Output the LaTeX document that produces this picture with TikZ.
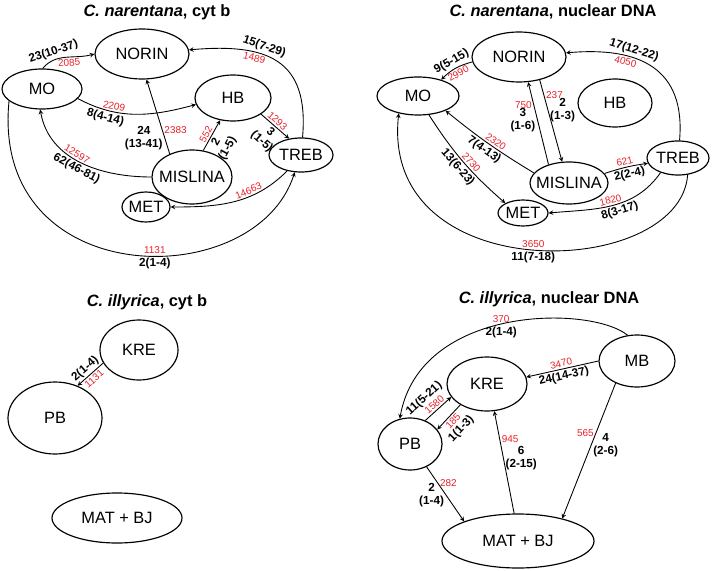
\documentclass[tikz,border=0pt]{standalone}
\usepackage{fontspec}
\setmainfont{Liberation Sans}
\usetikzlibrary{shapes.geometric}
\definecolor{cb}{RGB}{0,0,0}
\definecolor{cr}{RGB}{232,32,40}
\tikzstyle{pop}=[ellipse, draw=cb, line width=1pt, inner xsep=-12pt, inner ysep=-4pt, font=\fontsize{14}{16}\selectfont]
\tikzstyle{head}=[font=\bfseries\fontsize{14}{16}\selectfont]
\tikzstyle{arrow}=[cb, line width=0.75pt, ->, >=stealth]
\tikzstyle{est}=[font=\bfseries\fontsize{10}{11}\selectfont, inner sep=1.5pt, align=center]
\tikzstyle{num}=[cr, font=\fontsize{8.5}{10}\selectfont, inner sep=1.5pt]

\begin{document}
\begin{tikzpicture}[x=0.03cm, y=-0.03cm]
  \useasboundingbox (0,0) rectangle (712,571);

  \node [head] (title-a) at (157,12) {\textit{C. narentana}, cyt b};
  \node [head] (title-b) at (553,12) {\textit{C. narentana}, nuclear DNA};
  \node [head] (title-c) at (147,302) {\textit{C. illyrica}, cyt b};
  \node [head] (title-d) at (549,299) {\textit{C. illyrica}, nuclear DNA};

  \node [pop, minimum width=2.82cm, minimum height=1.50cm] (norin-a) at (142,54) {NORIN};
  \node [pop, minimum width=2.40cm, minimum height=1.20cm] (mo-a) at (42,89) {MO};
  \node [pop, minimum width=2.28cm, minimum height=1.38cm] (hb-a) at (233,98) {HB};
  \node [pop, minimum width=2.40cm, minimum height=1.62cm] (mislina-a) at (192,177) {MISLINA};
  \node [pop, minimum width=1.92cm, minimum height=1.02cm] (treb-a) at (301,155) {TREB};
  \node [pop, minimum width=1.44cm, minimum height=0.90cm] (met-a) at (146,207) {MET};

  \draw [arrow] (mo-a.88) to[out=50,in=195] node[est, pos=.3, above, sloped]{23(10-37)} node[num, pos=.55, below, sloped]{2085} (norin-a.180);
  \draw [arrow] (mo-a.-15) to[out=-28,in=195] node[num, pos=.3, above, sloped]{2209} node[est, pos=.25, below, sloped]{8(4-14)} (hb-a.190);
  \draw [arrow] (treb-a.85) to[out=85,in=5,looseness=1.4] node[est, pos=.62, above, sloped]{15(7-29)} node[num, pos=.66, below, sloped]{1489} (norin-a.5);
  \draw [arrow] (mislina-a.134) -- node[est, pos=.21, left]{24\\(13-41)} node[num, pos=.32, right]{2383} (norin-a.-80);
  \draw [arrow] (mislina-a.67) -- node[num, pos=.45, above, sloped]{552} node[est, pos=.4, below, sloped]{2\\(1-5)} (hb-a.240);
  \draw [arrow] (hb-a.-30) -- node[num, pos=.45, above, sloped]{1293} node[est, pos=.5, below, sloped]{3\\(1-5)} (treb-a.126);
  \draw [arrow] (mislina-a.180) to[out=180,in=-80] node[num, pos=.55, above, sloped]{12597} node[est, pos=.5, below, sloped]{62(46-81)} (mo-a.-95);
  \draw [arrow] (treb-a.229) to[out=225,in=0] node[num, pos=.35, above, sloped]{14663} (met-a.0);
  \draw [arrow] (mo-a.200) .. controls (-10,292) and (255,295) .. node[num, pos=.56, above]{1131} node[est, pos=.56, below]{2(1-4)} (treb-a.250);

  \node [pop, minimum width=2.82cm, minimum height=1.50cm] (norin-b) at (519,57) {NORIN};
  \node [pop, minimum width=2.46cm, minimum height=1.14cm] (mo-b) at (418,96) {MO};
  \node [pop, minimum width=2.22cm, minimum height=1.44cm] (hb-b) at (615,103) {HB};
  \node [pop, minimum width=2.34cm, minimum height=1.26cm] (mislina-b) at (569,183) {MISLINA};
  \node [pop, minimum width=1.86cm, minimum height=1.02cm] (treb-b) at (678,158) {TREB};
  \node [pop, minimum width=1.50cm, minimum height=0.78cm] (met-b) at (523,213) {MET};

  \draw [arrow] (norin-b.186) to[bend right=15] node[est, pos=.5, above, sloped]{9(5-15)} node[num, pos=.5, below, sloped]{2990} (mo-b.35);
  \draw [arrow] (mislina-b.138) -- node[num, pos=.72, left]{750} node[est, pos=.54, left]{3\\(1-6)} (norin-b.-70);
  \draw [arrow] (norin-b.-48) -- node[num, pos=.19, right]{237} node[est, pos=.37, right]{2\\(1-3)} (mislina-b.108);
  \draw [arrow] (mislina-b.164) to[bend left=4] node[num, pos=.45, above, sloped]{2320} node[est, pos=.5, below, sloped]{7(4-13)} (mo-b.-28);
  \draw [arrow] (mo-b.-60) to[bend right=8] node[num, pos=.55, above, sloped]{2730} node[est, pos=.5, below, sloped]{13(6-23)} (met-b.151);
  \draw [arrow] (mislina-b.15) to[bend left=5] node[num, pos=.5, above, sloped]{621} node[est, pos=.55, below, sloped]{2(2-4)} (treb-b.190);
  \draw [arrow] (treb-b.220) to[out=235,in=5] node[num, pos=.5, above, sloped]{1820} node[est, pos=.45, below, sloped]{8(3-17)} (met-b.0);
  \draw [arrow] (treb-b.85) to[out=85,in=5,looseness=1.3] node[est, pos=.65, above, sloped]{17(12-22)} node[num, pos=.68, below, sloped]{4050} (norin-b.5);
  \draw [arrow] (treb-b.-60) .. controls (680,280) and (380,290) .. node[num, pos=.5, above]{3650} node[est, pos=.5, below]{11(7-18)} (mo-b.222);

  \node [pop, minimum width=2.34cm, minimum height=1.80cm] (kre-c) at (139,350) {KRE};
  \node [pop, minimum width=2.82cm, minimum height=2.16cm] (pb-c) at (55,418) {PB};
  \node [pop, minimum width=3.90cm, minimum height=1.50cm] (mat-c) at (117,518) {MAT + BJ};

  \draw [arrow] (kre-c.200) -- node[est, pos=.5, above, sloped]{2(1-4)} node[num, pos=.5, below, sloped]{1131} (pb-c.55);

  \node [pop, minimum width=2.40cm, minimum height=1.62cm] (kre-d) at (487,384) {KRE};
  \node [pop, minimum width=2.28cm, minimum height=1.56cm] (mb-d) at (637,361) {MB};
  \node [pop, minimum width=1.92cm, minimum height=1.56cm] (pb-d) at (410,444) {PB};
  \node [pop, minimum width=4.56cm, minimum height=1.62cm] (mat-d) at (518,541) {MAT + BJ};

  \draw [arrow] (mb-d.110) .. controls (590,305) and (420,305) .. node[num, pos=.52, above]{370} node[est, pos=.52, below]{2(1-4)} (pb-d.112);
  \draw [arrow] (mb-d.180) -- node[num, pos=.5, above, sloped]{3470} node[est, pos=.5, below, sloped]{24(14-37)} (kre-d.10);
  \draw [arrow] (pb-d.57) -- node[num, pos=.5, above, sloped]{1580} node[est, pos=.4, above=8pt, sloped]{11(5-21)} (kre-d.200);
  \draw [arrow] (kre-d.218) -- node[num, pos=.5, below, sloped]{185} node[est, pos=.5, below=8pt, sloped]{1(1-3)} (pb-d.28);
  \draw [arrow] (mat-d.98) -- node[num, pos=.73, right]{945} node[est, pos=.54, right]{6\\(2-15)} (kre-d.-75);
  \draw [arrow] (mb-d.226) -- node[num, pos=.37, left]{565} node[est, pos=.46, right]{4\\(2-6)} (mat-d.27);
  \draw [arrow] (pb-d.-54) -- node[est, pos=.52, left]{2\\(1-4)} node[num, pos=.3, right]{282} (mat-d.160);
\end{tikzpicture}
\end{document}
